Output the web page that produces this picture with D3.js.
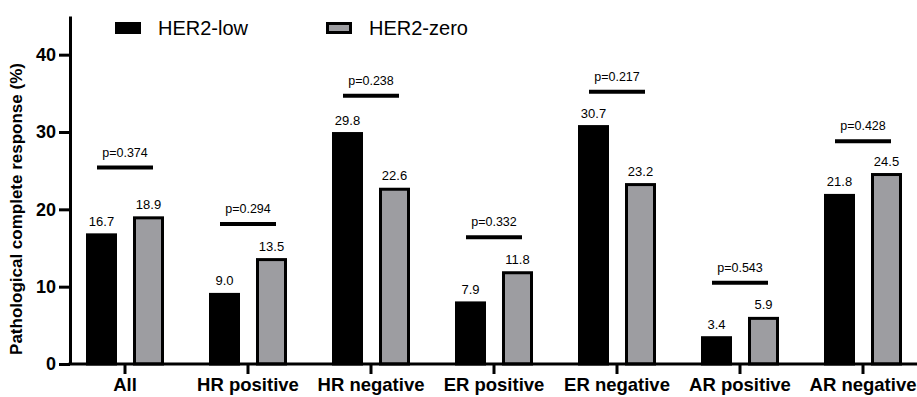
<!DOCTYPE html>
<html><head><meta charset="utf-8">
<script src="https://cdn.jsdelivr.net/npm/d3@7"></script>
<style>body{margin:0;background:#fff}svg{display:block}text{font-family:Arial,"Liberation Sans",sans-serif}</style>
</head><body><svg id="c" width="917" height="397"></svg>
<script>
const categories = ["All","HR positive","HR negative","ER positive","ER negative","AR positive","AR negative"];
const herLow = [16.7, 9.0, 29.8, 7.9, 30.7, 3.4, 21.8];
const herZero = [18.9, 13.5, 22.6, 11.8, 23.2, 5.9, 24.5];
const pValues = ["p=0.374","p=0.294","p=0.238","p=0.332","p=0.217","p=0.543","p=0.428"];
const pLevels = [25.4, 18.1, 34.7, 16.4, 35.2, 10.5, 28.8];
const yTicks = [0, 10, 20, 30, 40];
const seriesNames = ["HER2-low", "HER2-zero"];
const colors = ["#000000", "#9d9da1"];

const svg = d3.select("#c");
const y = d3.scaleLinear().domain([0, 45]).range([364, 16]);
const x = d3.scaleBand().domain(categories).range([63.5, 924.5]);
const off = 23.5, bw = 28;
const FONT = "Arial,'Liberation Sans',sans-serif";

// bars
const g = svg.append("g");
categories.forEach((c, i) => {
  const cx = x(c) + x.bandwidth() / 2;
  [herLow[i], herZero[i]].forEach((v, j) => {
    const bx = cx + (j === 0 ? -off : off) - bw / 2;
    g.append("rect").attr("x", bx).attr("y", y(v)).attr("width", bw).attr("height", y(0) - y(v))
      .attr("fill", colors[j]).attr("stroke", "#000").attr("stroke-width", 3);
    g.append("text").attr("x", bx + bw / 2).attr("y", y(v) - 9).attr("text-anchor", "middle")
      .attr("font-size", 13).text(v.toFixed(1));
  });
  g.append("line").attr("x1", cx - 28).attr("x2", cx + 28).attr("y1", y(pLevels[i])).attr("y2", y(pLevels[i]))
    .attr("stroke", "#000").attr("stroke-width", 4);
  g.append("text").attr("x", cx).attr("y", y(pLevels[i]) - 11).attr("text-anchor", "middle")
    .attr("font-size", 12.5).text(pValues[i]);
});

// y axis
const ya = svg.append("g").attr("transform", "translate(70,0)")
  .call(d3.axisLeft(y).tickValues(yTicks).tickSize(11).tickSizeOuter(0).tickPadding(3));
ya.select(".domain").attr("stroke-width", 3);
ya.selectAll(".tick line").attr("stroke-width", 3);
ya.selectAll(".tick text").attr("font-size", 18).attr("font-weight", "bold").attr("font-family", FONT).attr("fill", "#000");

// x axis
const xa = svg.append("g").attr("transform", `translate(0,${y(0)})`)
  .call(d3.axisBottom(x).tickSize(10).tickSizeOuter(0).tickPadding(4));
xa.select(".domain").attr("d", "M68.5,0H917").attr("stroke-width", 3);
xa.selectAll(".tick line").attr("stroke-width", 3);
xa.selectAll(".tick text").attr("font-size", 18.5).attr("font-weight", "bold").attr("font-family", FONT).attr("fill", "#000");

// y title
svg.append("text").attr("transform", `translate(22,209) rotate(-90)`)
  .attr("text-anchor", "middle").attr("font-size", 17).attr("font-weight", "bold")
  .text("Pathological complete response (%)");

// legend
const legX = [115, 326];
seriesNames.forEach((n, j) => {
  svg.append("rect").attr("x", legX[j] + 1.5).attr("y", 23.5).attr("width", 23).attr("height", 9)
    .attr("fill", colors[j]).attr("stroke", "#000").attr("stroke-width", 3);
  svg.append("text").attr("x", legX[j] + 43).attr("y", 35).attr("font-size", 20).text(n);
});
</script></body></html>
